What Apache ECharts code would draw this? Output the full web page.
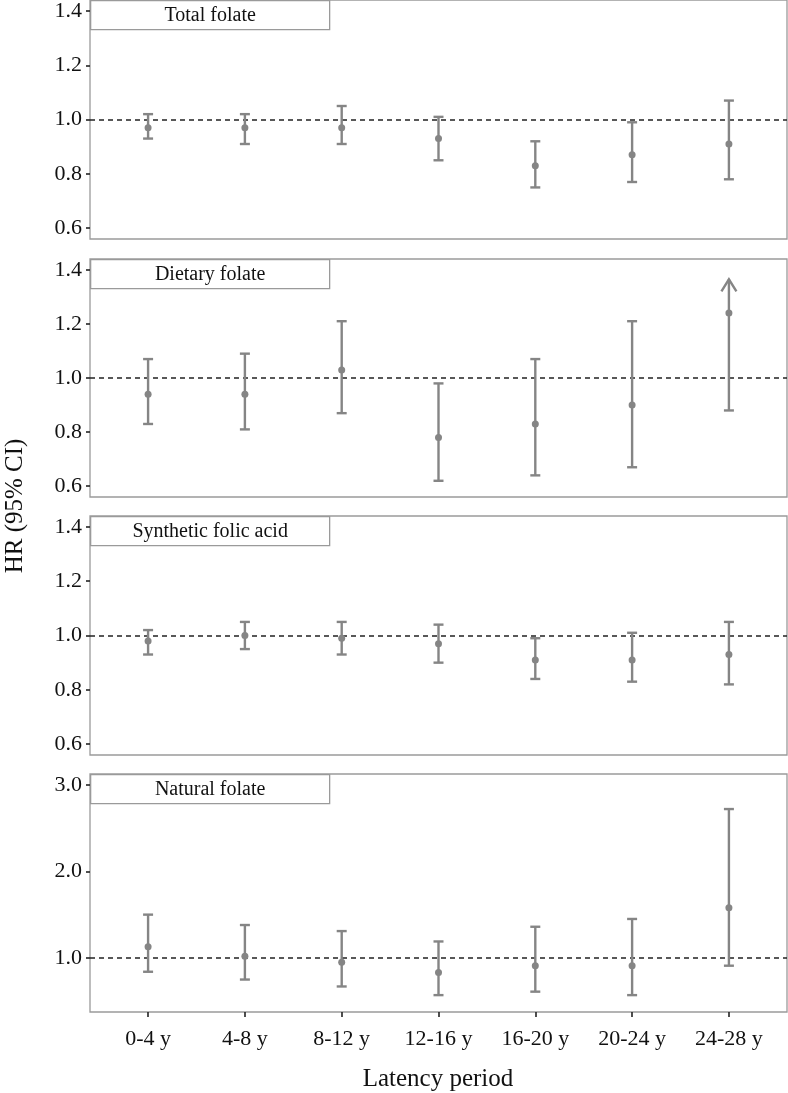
<!DOCTYPE html>
<html>
<head>
<meta charset="utf-8">
<script src="https://cdn.jsdelivr.net/npm/echarts@6/dist/echarts.min.js"></script>
<style>
html,body{margin:0;padding:0;background:#fff;}
#chart{width:788px;height:1093px;}
</style>
</head>
<body>
<div id="chart"></div>
<script>
// ---- data ----
const categories = ['0-4 y', '4-8 y', '8-12 y', '12-16 y', '16-20 y', '20-24 y', '24-28 y'];
const panelTitles = ['Total folate', 'Dietary folate', 'Synthetic folic acid', 'Natural folate'];

const totalEst  = [0.97, 0.97, 0.97, 0.93, 0.83, 0.87, 0.91];
const totalLow  = [0.93, 0.91, 0.91, 0.85, 0.75, 0.77, 0.78];
const totalHigh = [1.02, 1.02, 1.05, 1.01, 0.92, 0.99, 1.07];

const dietaryEst  = [0.94, 0.94, 1.03, 0.78, 0.83, 0.90, 1.24];
const dietaryLow  = [0.83, 0.81, 0.87, 0.62, 0.64, 0.67, 0.88];
const dietaryHigh = [1.07, 1.09, 1.21, 0.98, 1.07, 1.21, 1.365]; // last one exceeds the axis: drawn as arrow
const dietaryOpenUpper = [0, 0, 0, 0, 0, 0, 1];

const syntheticEst  = [0.98, 1.00, 0.99, 0.97, 0.91, 0.91, 0.93];
const syntheticLow  = [0.93, 0.95, 0.93, 0.90, 0.84, 0.83, 0.82];
const syntheticHigh = [1.02, 1.05, 1.05, 1.04, 0.99, 1.01, 1.05];

const naturalEst  = [1.13, 1.02, 0.95, 0.83, 0.91, 0.91, 1.58];
const naturalLow  = [0.84, 0.75, 0.67, 0.57, 0.61, 0.57, 0.91];
const naturalHigh = [1.50, 1.38, 1.31, 1.19, 1.36, 1.45, 2.72];

const yTicksSmall = [0.6, 0.8, 1.0, 1.2, 1.4];
const yTicksNatural = [1.0, 2.0, 3.0];
const referenceHR = 1;

// ---- layout / style ----
const FONT = 'Liberation Serif';
const BAR = '#858585';
const GRID_LEFT = 90, GRID_W = 697;
const grids = [
  {top: 0, height: 239},
  {top: 259, height: 238},
  {top: 516, height: 239},
  {top: 774, height: 238}
];
const yRanges = [[0.56, 1.44], [0.56, 1.44], [0.56, 1.44], [0.375, 3.125]];
const yTicks = [yTicksSmall, yTicksSmall, yTicksSmall, yTicksNatural];

const panels = [
  {est: totalEst, low: totalLow, high: totalHigh},
  {est: dietaryEst, low: dietaryLow, high: dietaryHigh, open: dietaryOpenUpper},
  {est: syntheticEst, low: syntheticLow, high: syntheticHigh},
  {est: naturalEst, low: naturalLow, high: naturalHigh}
];

function renderItem(params, api) {
  const x = api.value(0), lo = api.value(1), mid = api.value(2), hi = api.value(3), open = api.value(4);
  const pLo = api.coord([x, lo]);
  const pMid = api.coord([x, mid]);
  const pHi = api.coord([x, hi]);
  const style = {stroke: BAR, lineWidth: 2.4, fill: null};
  const cap = 5;
  const children = [
    {type: 'line', shape: {x1: pLo[0], y1: pLo[1], x2: pHi[0], y2: pHi[1]}, style: style},
    {type: 'line', shape: {x1: pLo[0] - cap, y1: pLo[1], x2: pLo[0] + cap, y2: pLo[1]}, style: style}
  ];
  if (open) {
    children.push({type: 'polyline', shape: {points: [[pHi[0] - 7.5, pHi[1] + 12], [pHi[0], pHi[1]], [pHi[0] + 7.5, pHi[1] + 12]]}, style: style});
  } else {
    children.push({type: 'line', shape: {x1: pHi[0] - cap, y1: pHi[1], x2: pHi[0] + cap, y2: pHi[1]}, style: style});
  }
  children.push({type: 'circle', shape: {cx: pMid[0], cy: pMid[1], r: 3.5}, style: {fill: BAR}});
  return {type: 'group', children: children};
}

const option = {
  animation: false,
  backgroundColor: '#fff',
  grid: grids.map(g => ({left: GRID_LEFT, width: GRID_W, top: g.top, height: g.height, show: true, borderColor: '#9a9a9a', borderWidth: 1.3, backgroundColor: 'transparent'})),
  xAxis: grids.map((g, i) => ({
    type: 'value', gridIndex: i, min: 0.4, max: 7.6,
    splitLine: {show: false},
    axisLine: {show: false},
    axisTick: {show: i === 3, length: 5, customValues: [1, 2, 3, 4, 5, 6, 7], lineStyle: {color: '#222', width: 1.6}},
    axisLabel: {show: i === 3, customValues: [1, 2, 3, 4, 5, 6, 7], formatter: v => categories[Math.round(v) - 1] || '', fontFamily: FONT, fontSize: 22, color: '#111', margin: 16}
  })),
  yAxis: grids.map((g, i) => ({
    type: 'value', gridIndex: i, min: yRanges[i][0], max: yRanges[i][1],
    splitLine: {show: false},
    axisLine: {show: false},
    axisTick: {show: true, length: 4, customValues: yTicks[i], lineStyle: {color: '#222', width: 1.6}},
    axisLabel: {customValues: yTicks[i], formatter: v => Number(v).toFixed(1), fontFamily: FONT, fontSize: 22, color: '#111', margin: 8}
  })),
  series: panels.map((p, i) => ({
    type: 'custom', xAxisIndex: i, yAxisIndex: i,
    renderItem: renderItem,
    data: categories.map((c, k) => [k + 1, p.low[k], p.est[k], p.high[k], p.open ? p.open[k] : 0]),
    z: 3,
    markLine: {
      silent: true, symbol: 'none', z: 2,
      label: {show: false},
      lineStyle: {color: '#222', type: [5, 4], width: 1.5},
      data: [{yAxis: referenceHR}]
    }
  })),
  graphic: [].concat(
    grids.map((g, i) => ({
      type: 'group', left: GRID_LEFT, top: g.top, z: 10,
      children: [
        {type: 'rect', shape: {x: 0, y: 0, width: 239, height: 29}, style: {fill: '#fff', stroke: '#9a9a9a', lineWidth: 1.3}},
        {type: 'text', x: 119.5, y: 15, style: {text: panelTitles[i], font: '20px "Liberation Serif"', fill: '#111', align: 'center', verticalAlign: 'middle'}}
      ]
    })),
    [
      {type: 'text', x: 15, y: 506, rotation: Math.PI / 2, style: {text: 'HR (95% CI)', font: '25px "Liberation Serif"', fill: '#111', align: 'center', verticalAlign: 'middle'}},
      {type: 'text', x: 438, y: 1079, style: {text: 'Latency period', font: '25px "Liberation Serif"', fill: '#111', align: 'center', verticalAlign: 'middle'}}
    ]
  )
};

const chart = echarts.init(document.getElementById('chart'), null, {renderer: 'canvas'});
chart.setOption(option);
</script>
</body>
</html>
